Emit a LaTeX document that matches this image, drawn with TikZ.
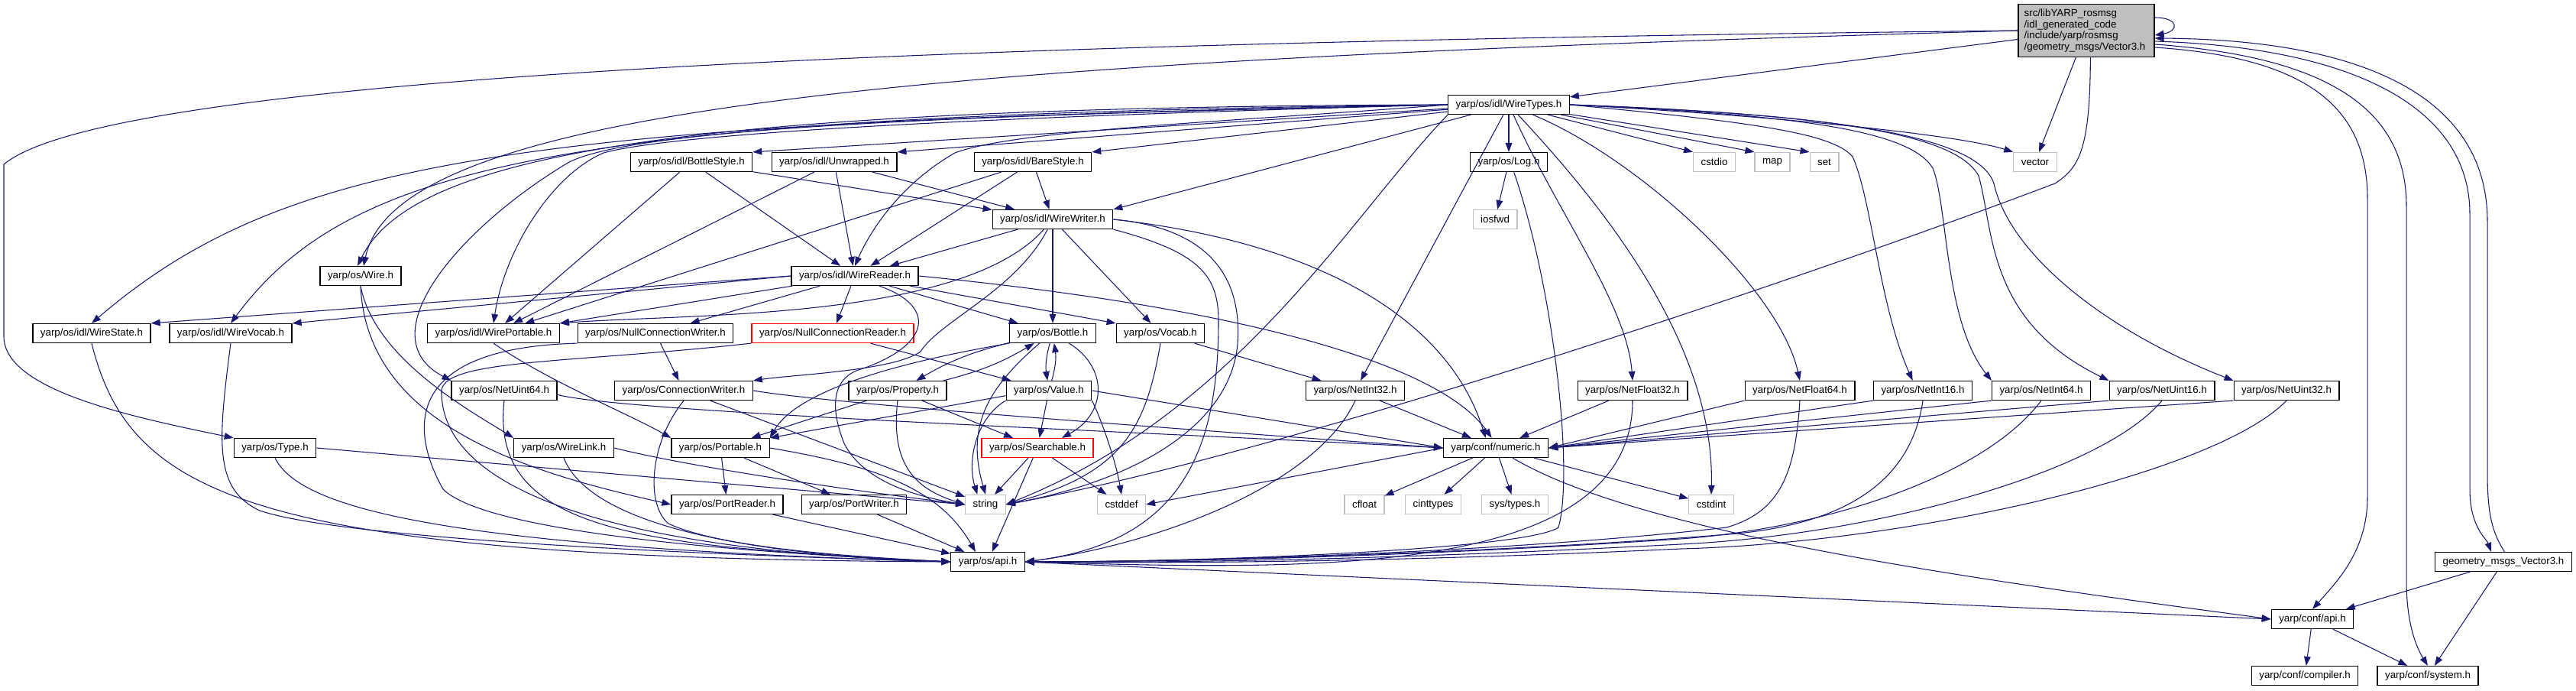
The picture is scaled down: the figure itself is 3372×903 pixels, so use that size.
\documentclass[tikz,border=0pt]{standalone}
\usepackage{fontspec}
\setmainfont{Liberation Sans}
\usetikzlibrary{arrows.meta}

\definecolor{edgeblue}{HTML}{191970}
\definecolor{doxgray}{HTML}{BFBFBF}

\begin{document}
\begin{tikzpicture}[x=0.75pt, y=-0.75pt]
    \tikzset{
      hdr/.style={
        rectangle, draw=black, fill=white, line width=0.9pt,
        minimum height=18.75pt, inner xsep=7.5pt, inner ysep=0pt,
        font=\fontsize{10pt}{12pt}\selectfont
      },
      syshdr/.style={hdr, draw=doxgray},
      redhdr/.style={hdr, draw=red},
      mainhdr/.style={
        hdr, fill=doxgray, text width=122pt, align=left,
        minimum height=51.75pt, inner xsep=5.75pt,
        font=\fontsize{10pt}{10.9pt}\selectfont
      },
      dep/.style={draw=edgeblue, line width=0.8pt, -{Triangle[length=9pt,width=6.5pt]}}
    }
    \useasboundingbox (0,0) rectangle (3372,903);

    % Row 0
    \node[mainhdr] (main) at (2731,40) {src/libYARP\_rosmsg\\/idl\_generated\_code\\/include/yarp/rosmsg\\/geometry\_msgs/Vector3.h};

    % Row 1
    \node[hdr] (wiretypes) at (1975,137) {yarp/os/idl/WireTypes.h};

    % Row 2
    \node[hdr] (bottlestyle) at (905,212) {yarp/os/idl/BottleStyle.h};
    \node[hdr] (unwrapped) at (1092,212) {yarp/os/idl/Unwrapped.h};
    \node[hdr] (barestyle) at (1352,212) {yarp/os/idl/BareStyle.h};
    \node[hdr] (log) at (1975,212) {yarp/os/Log.h};
    \node[syshdr] (cstdio) at (2244,212) {cstdio};
    \node[syshdr] (map) at (2320,212) {map};
    \node[syshdr] (set) at (2388,212) {set};
    \node[syshdr] (vector) at (2664,212) {vector};

    % Row 3
    \node[hdr] (wirewriter) at (1378,287) {yarp/os/idl/WireWriter.h};
    \node[syshdr] (iosfwd) at (1957,287) {iosfwd};

    % Row 4
    \node[hdr] (wire) at (472,361) {yarp/os/Wire.h};
    \node[hdr] (wirereader) at (1119,361) {yarp/os/idl/WireReader.h};

    % Row 5
    \node[hdr] (wirestate) at (120,436) {yarp/os/idl/WireState.h};
    \node[hdr] (wirevocab) at (302,436) {yarp/os/idl/WireVocab.h};
    \node[hdr] (wireportable) at (646,436) {yarp/os/idl/WirePortable.h};
    \node[hdr] (nullwriter) at (858,436) {yarp/os/NullConnectionWriter.h};
    \node[redhdr] (nullreader) at (1090,436) {yarp/os/NullConnectionReader.h};
    \node[hdr] (bottle) at (1378,436) {yarp/os/Bottle.h};
    \node[hdr] (vocab) at (1519,436) {yarp/os/Vocab.h};

    % Row 6
    \node[hdr] (netuint64) at (660,511) {yarp/os/NetUint64.h};
    \node[hdr] (connwriter) at (895,511) {yarp/os/ConnectionWriter.h};
    \node[hdr] (property) at (1175,511) {yarp/os/Property.h};
    \node[hdr] (value) at (1373,511) {yarp/os/Value.h};
    \node[hdr] (netint32) at (1774,511) {yarp/os/NetInt32.h};
    \node[hdr] (netfloat32) at (2137,511) {yarp/os/NetFloat32.h};
    \node[hdr] (netfloat64) at (2356,511) {yarp/os/NetFloat64.h};
    \node[hdr] (netint16) at (2517,511) {yarp/os/NetInt16.h};
    \node[hdr] (netint64) at (2672,511) {yarp/os/NetInt64.h};
    \node[hdr] (netuint16) at (2830,511) {yarp/os/NetUint16.h};
    \node[hdr] (netuint32) at (2993,511) {yarp/os/NetUint32.h};

    % Row 7
    \node[hdr] (type) at (360,586) {yarp/os/Type.h};
    \node[hdr] (wirelink) at (738,586) {yarp/os/WireLink.h};
    \node[hdr] (portable) at (943,586) {yarp/os/Portable.h};
    \node[redhdr] (searchable) at (1358,586) {yarp/os/Searchable.h};
    \node[hdr] (numeric) at (1958,586) {yarp/conf/numeric.h};

    % Row 8
    \node[hdr] (portreader) at (952,660) {yarp/os/PortReader.h};
    \node[hdr] (portwriter) at (1118,660) {yarp/os/PortWriter.h};
    \node[syshdr] (string) at (1290,660) {string};
    \node[syshdr] (cstddef) at (1468,660) {cstddef};
    \node[syshdr] (cfloat) at (1786,660) {cfloat};
    \node[syshdr] (cinttypes) at (1876,660) {cinttypes};
    \node[syshdr] (systypes) at (1983,660) {sys/types.h};
    \node[syshdr] (cstdint) at (2240,660) {cstdint};

    % Row 9
    \node[hdr] (osapi) at (1293,735) {yarp/os/api.h};
    \node[hdr] (geometry) at (3277,735) {geometry\_msgs\_Vector3.h};

    % Row 10 and 11
    \node[hdr] (confapi) at (3027,810) {yarp/conf/api.h};
    \node[hdr] (compiler) at (3017,884) {yarp/conf/compiler.h};
    \node[hdr] (system) at (3178,884) {yarp/conf/system.h};

    % The file itself
    \draw[dep] (main) -- (wiretypes);
    \draw[dep] (main) -- (vector);
    \draw[dep] (main.west) .. controls (1300,55) and (150,95) .. (5,215) -- (5,440)
        .. controls (5,510) and (170,545) .. (type.north west);
    \draw[dep] (main.west) .. controls (1200,80) and (520,140) .. ([xshift=3pt]wire.north);
    \draw[dep] ([xshift=4pt]main.south) .. controls (2736,200) and (2720,220) .. (2690,240)
        .. controls (2400,350) and (1700,590) .. (string.east);
    \draw[dep] ([yshift=-16.5pt]main.east) .. controls (3020,75) and (3099,140) .. (3099,260) -- (3099,650)
        .. controls (3099,720) and (3060,760) .. (confapi.north);
    \draw[dep] ([yshift=-13.5pt]main.east) .. controls (3060,75) and (3150,150) .. (3150,270) -- (3150,760)
        .. controls (3150,820) and (3165,850) .. (system.north);
    \draw[dep] ([yshift=-10.5pt]main.east) .. controls (3080,62) and (3233,140) .. (3233,280) -- (3233,640)
        .. controls (3233,690) and (3255,705) .. ([xshift=-12pt]geometry.north);
    \draw[dep] ([yshift=12.75pt]main.east) .. controls +(24pt,0pt) and +(24pt,4pt) .. ([yshift=-4.5pt]main.east);

    % geometry_msgs_Vector3.h and yarp/conf
    \draw[dep] ([xshift=1pt]geometry.north) .. controls (3265,700) and (3256,680) .. (3256,620) -- (3256,290)
        .. controls (3256,130) and (3100,52) .. ([yshift=-7.5pt]main.east);
    \draw[dep] (geometry) -- (confapi);
    \draw[dep] (geometry) -- (system);
    \draw[dep] (confapi) -- (compiler);
    \draw[dep] (confapi) -- (system);

    % yarp/os/idl/WireTypes.h
    \draw[dep] (wiretypes.west) .. controls (900,140) and (540,200) .. ([xshift=-3pt]wire.north);
    \draw[dep] (wiretypes.west) .. controls (700,160) and (380,200) .. (wirestate.north);
    \draw[dep] (wiretypes.west) .. controls (750,150) and (460,210) .. (wirevocab.north);
    \draw[dep] (wiretypes.west) .. controls (1400,150) and (900,170) .. (790,200)
        .. controls (720,230) and (660,330) .. (wireportable.north);
    \draw[dep] (wiretypes.west) .. controls (1300,150) and (820,165) .. (740,215)
        .. controls (600,300) and (480,440) .. (netuint64.north west);
    \draw[dep] (wiretypes) -- (bottlestyle.north east);
    \draw[dep] (wiretypes) -- (unwrapped.north east);
    \draw[dep] (wiretypes) -- (barestyle.north east);
    \draw[dep] (wiretypes) -- (wirewriter.north east);
    \draw[dep] (wiretypes.west) .. controls (1600,160) and (1330,170) .. (1250,200)
        .. controls (1180,240) and (1140,300) .. (wirereader.north);
    \draw[dep] (wiretypes) -- (log);
    \draw[dep] (wiretypes) -- (cstdio.north west);
    \draw[dep] (wiretypes) -- (map.north west);
    \draw[dep] (wiretypes) -- (set.north west);
    \draw[dep] (wiretypes.east) .. controls (2300,150) and (2560,175) .. (vector.north west);
    \draw[dep] (wiretypes.south west) .. controls (1770,280) and (1620,540) .. (string.east);
    \draw[dep] (wiretypes) -- (netint32);
    \draw[dep] (wiretypes) .. controls (2040,280) and (2130,400) .. (netfloat32.north);
    \draw[dep] (wiretypes) .. controls (2080,250) and (2245,440) .. (cstdint.north);
    \draw[dep] (wiretypes) .. controls (2150,210) and (2330,380) .. (netfloat64.north);
    \draw[dep] (wiretypes.east) .. controls (2300,160) and (2400,175) .. (2425,205)
        .. controls (2450,260) and (2460,400) .. ([xshift=-10pt]netint16.north);
    \draw[dep] (wiretypes.east) .. controls (2350,150) and (2500,170) .. (2530,220)
        .. controls (2550,270) and (2545,420) .. (netint64.north west);
    \draw[dep] (wiretypes.east) .. controls (2400,150) and (2560,175) .. (2590,230)
        .. controls (2610,300) and (2600,420) .. (netuint16.north west);
    \draw[dep] (wiretypes.east) .. controls (2420,150) and (2590,180) .. (2610,240)
        .. controls (2630,330) and (2750,430) .. (netuint32.north west);

    % yarp/os/Log.h
    \draw[dep] (log) -- (iosfwd);
    \draw[dep] ([xshift=5pt]log.south) .. controls (2035,380) and (2060,620) .. (2040,690)
        .. controls (2000,718) and (1600,735) .. (osapi.east);

    % idl styles
    \draw[dep] (bottlestyle) -- (wirereader);
    \draw[dep] (bottlestyle) -- (wirewriter);
    \draw[dep] (bottlestyle) -- (wireportable);
    \draw[dep] (unwrapped) -- (wirereader);
    \draw[dep] (unwrapped) -- (wirewriter);
    \draw[dep] (unwrapped) -- (wireportable);
    \draw[dep] (barestyle) -- (wirereader);
    \draw[dep] (barestyle) -- (wirewriter);
    \draw[dep] (barestyle) -- (wireportable);

    % yarp/os/idl/WireWriter.h
    \draw[dep] (wirewriter) -- (wirereader);
    \draw[dep] (wirewriter) -- (bottle);
    \draw[dep] (wirewriter) -- (vocab);
    \draw[dep] (wirewriter) .. controls (1260,420) and (900,410) .. (wireportable.north east);
    \draw[dep] (wirewriter) .. controls (1330,380) and (1230,420) .. (1205,460)
        .. controls (1170,485) and (1040,490) .. (connwriter.north east);
    \draw[dep] (wirewriter.east) .. controls (1750,320) and (1900,430) .. ([xshift=-10pt]numeric.north);
    \draw[dep] (wirewriter.east) .. controls (1600,300) and (1625,380) .. (1620,450)
        .. controls (1610,560) and (1480,630) .. (string.east);
    \draw[dep] (wirewriter.south east) .. controls (1570,330) and (1595,360) .. (1595,420)
        .. controls (1595,600) and (1540,710) .. (osapi.east);

    % yarp/os/idl/WireReader.h
    \draw[dep] (wirereader.west) -- (wirestate.north east);
    \draw[dep] (wirereader.west) -- (wirevocab.north east);
    \draw[dep] (wirereader) -- (wireportable.north east);
    \draw[dep] (wirereader) -- (nullwriter);
    \draw[dep] (wirereader) -- (nullreader);
    \draw[dep] (wirereader) -- (bottle);
    \draw[dep] (wirereader) -- (vocab.north west);
    \draw[dep] (wirereader.east) .. controls (1600,400) and (1880,470) .. ([xshift=-4pt]numeric.north);
    \draw[dep] ([xshift=24pt]wirereader.south) .. controls (1225,400) and (1220,450) .. (1130,482)
        .. controls (1090,492) and (1085,530) .. (1105,580)
        .. controls (1130,630) and (1200,650) .. (string.west);

    % yarp/os/Wire.h and the idl helpers
    \draw[dep] (wire.south) .. controls (490,470) and (620,540) .. (wirelink.north west);
    \draw[dep] (wire.south) .. controls (480,560) and (700,620) .. (portreader.west);
    \draw[dep] (wirestate.south) .. controls (170,650) and (330,730) .. (osapi.west);
    \draw[dep] (wirevocab.south) .. controls (285,580) and (280,640) .. (340,668)
        .. controls (450,705) and (900,725) .. (osapi.west);
    \draw[dep] (wireportable.south) .. controls (720,500) and (820,540) .. (portable.north west);
    \draw[dep] (type.east) -- (string.west);
    \draw[dep] (type.south) .. controls (390,660) and (550,715) .. (osapi.west);
    \draw[dep] (wirelink.east) .. controls (900,610) and (1100,640) .. (string.west);
    \draw[dep] (wirelink.south) .. controls (770,680) and (950,725) .. (osapi.west);
    \draw[dep] ([yshift=-4pt]netuint64.east) .. controls (820,540) and (1500,565) .. (numeric.west);
    \draw[dep] (netuint64.south) .. controls (640,700) and (850,715) .. (osapi.west);

    % connection readers and writers
    \draw[dep] (nullwriter) -- (connwriter);
    \draw[dep] (nullwriter.south west) .. controls (530,455) and (535,560) .. (580,640)
        .. controls (630,690) and (900,720) .. (osapi.west);
    \draw[dep] (nullreader) -- (value);
    \draw[dep] (nullreader.south west) .. controls (750,475) and (585,470) .. (578,510)
        .. controls (575,640) and (800,720) .. (osapi.west);
    \draw[dep] (connwriter.east) .. controls (1100,530) and (1600,565) .. (numeric.west);
    \draw[dep] (connwriter) -- (string);
    \draw[dep] (connwriter.south) .. controls (850,580) and (845,660) .. (875,685)
        .. controls (950,720) and (1150,730) .. (osapi.west);

    % yarp/os/Bottle.h and friends
    \draw[dep] (bottle) to[bend right=8] (property);
    \draw[dep] (property) to[bend right=8] (bottle);
    \draw[dep] (bottle) to[bend right=12] (value);
    \draw[dep] (value) to[bend right=12] (bottle);
    \draw[dep] (bottle.south west) .. controls (1230,465) and (1050,500) .. (portable.north east);
    \draw[dep] ([xshift=16pt]bottle.south) .. controls (1450,480) and (1450,540) .. ([xshift=24pt]searchable.north);
    \draw[dep] ([xshift=-13pt]bottle.south) .. controls (1290,510) and (1265,560) .. (string.north);
    \draw[dep] (property) -- (portable);
    \draw[dep] (property) -- (searchable);
    \draw[dep] (property.south) .. controls (1165,610) and (1200,640) .. (string.west);
    \draw[dep] (value) -- (searchable);
    \draw[dep] ([yshift=-5pt]value.west) -- (portable.north east);
    \draw[dep] (value.south west) .. controls (1280,545) and (1265,600) .. ([xshift=-8pt]string.north);
    \draw[dep] (value.south east) .. controls (1440,545) and (1460,600) .. (cstddef.north);
    \draw[dep] (value.east) -- (numeric.west);
    \draw[dep] (vocab) -- (netint32);
    \draw[dep] (vocab.south) .. controls (1500,560) and (1470,620) .. (string.east);

    % yarp/os/Searchable.h and yarp/os/Portable.h
    \draw[dep] (searchable) -- (string);
    \draw[dep] (searchable) -- (cstddef);
    \draw[dep] (searchable) -- (osapi);
    \draw[dep] (portable) -- (portreader);
    \draw[dep] (portable) -- (portwriter);
    \draw[dep] (portable.east) .. controls (1150,610) and (1230,640) .. ([xshift=-12pt]osapi.north);
    \draw[dep] (portreader) -- (osapi);
    \draw[dep] (portwriter) -- (osapi);

    % network integer and float types
    \draw[dep] (netint32) -- (numeric);
    \draw[dep] (netint32.south) .. controls (1720,640) and (1500,715) .. (osapi.east);
    \draw[dep] (netfloat32) -- (numeric);
    \draw[dep] (netfloat32.south) .. controls (2137,760) and (1700,745) .. (osapi.east);
    \draw[dep] (netfloat64.south west) -- (numeric.east);
    \draw[dep] (netfloat64.south) .. controls (2350,620) and (2330,670) .. (2260,690)
        .. controls (2000,720) and (1600,735) .. (osapi.east);
    \draw[dep] (netint16.south west) -- (numeric.east);
    \draw[dep] (netint16.south) .. controls (2500,640) and (2400,690) .. (2250,700)
        .. controls (2000,720) and (1600,735) .. (osapi.east);
    \draw[dep] (netint64.south west) -- (numeric.east);
    \draw[dep] (netint64.south) .. controls (2600,620) and (2400,690) .. (2200,705)
        .. controls (1900,725) and (1600,735) .. (osapi.east);
    \draw[dep] (netuint16.south west) -- (numeric.east);
    \draw[dep] (netuint16.south) .. controls (2750,620) and (2450,700) .. (2200,712)
        .. controls (1900,728) and (1600,737) .. (osapi.east);
    \draw[dep] (netuint32.south west) -- (numeric.east);
    \draw[dep] (netuint32.south) .. controls (2900,620) and (2500,710) .. (2200,718)
        .. controls (1900,732) and (1600,738) .. (osapi.east);

    % yarp/conf/numeric.h and yarp/os/api.h
    \draw[dep] (numeric) -- (cfloat);
    \draw[dep] (numeric) -- (cinttypes);
    \draw[dep] (numeric) -- (systypes);
    \draw[dep] (numeric) -- (cstdint);
    \draw[dep] (numeric.west) -- (cstddef.east);
    \draw[dep] (numeric) .. controls (2150,700) and (2600,760) .. (confapi.west);
    \draw[dep] (osapi.east) -- (confapi.west);
  \end{tikzpicture}
\end{document}
